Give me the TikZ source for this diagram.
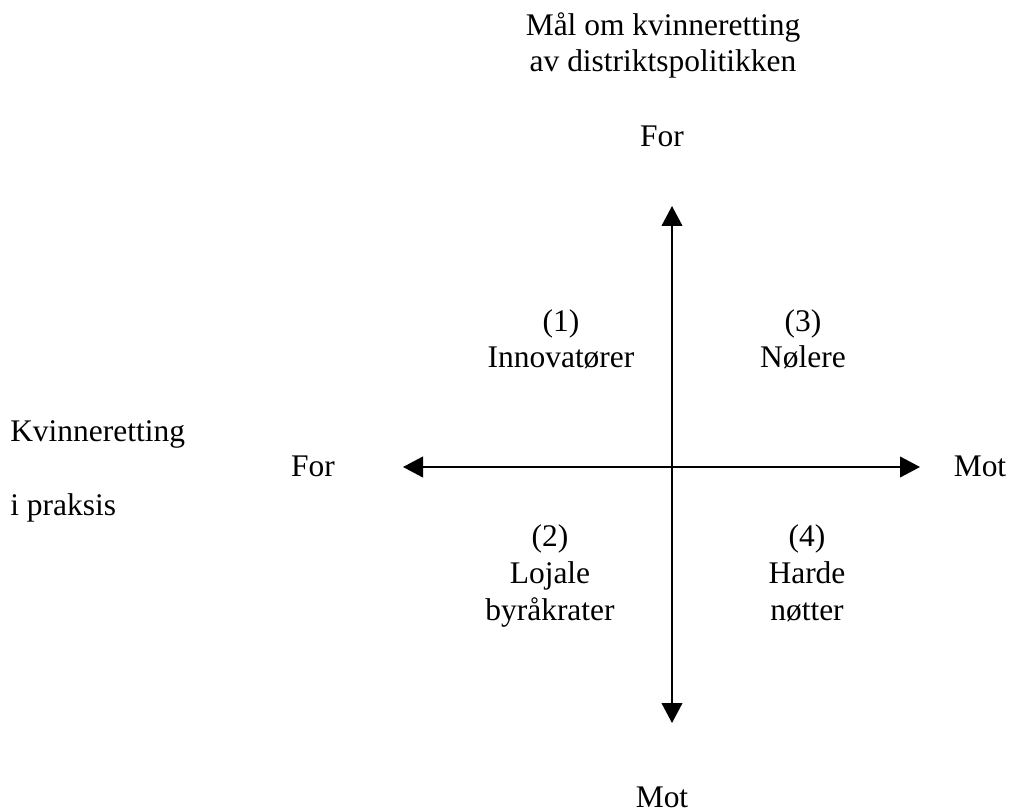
\documentclass[tikz,border=0pt]{standalone}
\usepackage{fontspec}
\setmainfont{Liberation Serif}
\usetikzlibrary{arrows.meta}
\tikzset{
  lbl/.style={inner sep=0pt, anchor=base, align=center, font=\fontsize{23.6}{27.6}\selectfont},
  axis/.style={line width=1.5pt, {Triangle[length=15pt,width=15.5pt]}-{Triangle[length=15pt,width=15.5pt]}}
}
\begin{document}
\begin{tikzpicture}[x=0.75pt,y=-0.75pt]
\useasboundingbox (0,0) rectangle (1010,812);
% axes
\coordinate (L) at (403,467);
\coordinate (R) at (920,467);
\coordinate (T) at (672,206);
\coordinate (B) at (672,723);
\draw[axis] (L) -- (R);
\draw[axis] (T) -- (B);
% labels (base anchor = baseline of last line)
\node[lbl] (title) at (663,72) {Mål om kvinneretting\\av distriktspolitikken};
\node[lbl] (fortop) at (662,147) {For};
\node[lbl] (motbot) at (662,807) {Mot};
\node[lbl] (forleft) at (313,477) {For};
\node[lbl] (motright) at (980,477) {Mot};
\node[lbl, anchor=base west, align=left] (kv) at (10,515) {Kvinneretting\\[27.2pt]i praksis};
\node[lbl] (q1) at (561,368) {(1)\\Innovatører};
\node[lbl] (q3) at (803,368) {(3)\\Nølere};
\node[lbl] (q2) at (550,620) {(2)\\Lojale\\byråkrater};
\node[lbl] (q4) at (807,620) {(4)\\Harde\\nøtter};
\end{tikzpicture}
\end{document}
